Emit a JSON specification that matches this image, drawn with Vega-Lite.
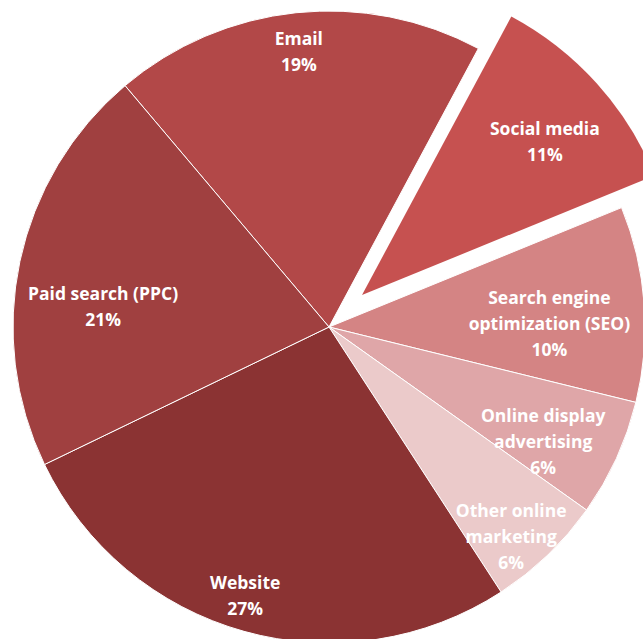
{
  "$schema": "https://vega.github.io/schema/vega-lite/v6.json",
  "width": 630,
  "height": 628,
  "autosize": {"type": "none"},
  "padding": {"left": 14, "top": 13, "right": 0, "bottom": 0},
  "background": "white",
  "config": {"view": {"stroke": null}, "text": {"lineBreak": "\n", "font": "Open Sans", "fontWeight": "bold", "fontSize": 17.5, "lineHeight": 26, "color": "white", "align": "center", "baseline": "middle"}},
  "data": {
    "values": [
      {"order": 1, "category": "Email", "value": 19, "label": "Email\n19%"},
      {"order": 2, "category": "Social media", "value": 11, "label": "Social media\n11%"},
      {"order": 3, "category": "Search engine optimization (SEO)", "value": 10, "label": "Search engine\noptimization (SEO)\n10%"},
      {"order": 4, "category": "Online display advertising", "value": 6, "label": "Online display\nadvertising\n6%"},
      {"order": 5, "category": "Other online marketing", "value": 6, "label": "Other online\nmarketing\n6%"},
      {"order": 6, "category": "Website", "value": 27, "label": "Website\n27%"},
      {"order": 7, "category": "Paid search (PPC)", "value": 21, "label": "Paid search (PPC)\n21%"}
    ]
  },
  "encoding": {
    "theta": {"field": "value", "type": "quantitative", "stack": true, "scale": {"range": [-0.7016, 5.5816]}},
    "order": {"field": "order", "type": "quantitative"}
  },
  "layer": [
    {
      "mark": {"type": "arc", "radius": 316, "stroke": "white", "strokeWidth": 1},
      "encoding": {
        "color": {
          "field": "category", "type": "nominal", "legend": null,
          "scale": {
            "domain": ["Email", "Social media", "Search engine optimization (SEO)", "Online display advertising", "Other online marketing", "Website", "Paid search (PPC)"],
            "range": ["#b24848", "#c65150", "#d48484", "#dfa6a8", "#ebcaca", "#8b3333", "#a04040"]
          }
        },
        "opacity": {"condition": {"test": "datum.category === 'Social media'", "value": 0}, "value": 1}
      }
    },
    {
      "mark": {"type": "arc", "radius": 316, "xOffset": 33, "yOffset": -32},
      "encoding": {
        "color": {"field": "category", "type": "nominal", "legend": null},
        "opacity": {"condition": {"test": "datum.category === 'Social media'", "value": 1}, "value": 0}
      }
    },
    {
      "mark": {"type": "text", "radius": 289},
      "encoding": {"text": {"field": "label"}, "opacity": {"condition": {"test": "datum.category === 'Email'", "value": 1}, "value": 0}}
    },
    {
      "mark": {"type": "text", "radius": 267, "dx": -12},
      "encoding": {"text": {"field": "label"}, "opacity": {"condition": {"test": "datum.category === 'Website'", "value": 1}, "value": 0}}
    },
    {
      "mark": {"type": "text", "radius": 256, "dx": 5},
      "encoding": {"text": {"field": "label"}, "opacity": {"condition": {"test": "datum.category === 'Other online marketing'", "value": 1}, "value": 0}}
    },
    {
      "mark": {"type": "text", "radius": 240, "dx": -4, "dy": -10},
      "encoding": {"text": {"field": "label"}, "opacity": {"condition": {"test": "datum.category === 'Online display advertising'", "value": 1}, "value": 0}}
    },
    {
      "mark": {"type": "text", "radius": 231, "dy": 16},
      "encoding": {"text": {"field": "label"}, "opacity": {"condition": {"test": "datum.category === 'Paid search (PPC)'", "value": 1}, "value": 0}}
    },
    {
      "mark": {"type": "text", "radius": 221, "dy": -12},
      "encoding": {"text": {"field": "label"}, "opacity": {"condition": {"test": "datum.category === 'Search engine optimization (SEO)'", "value": 1}, "value": 0}}
    },
    {
      "mark": {"type": "text", "radius": 246, "xOffset": 33, "yOffset": -32},
      "encoding": {"text": {"field": "label"}, "opacity": {"condition": {"test": "datum.category === 'Social media'", "value": 1}, "value": 0}}
    }
  ]
}
